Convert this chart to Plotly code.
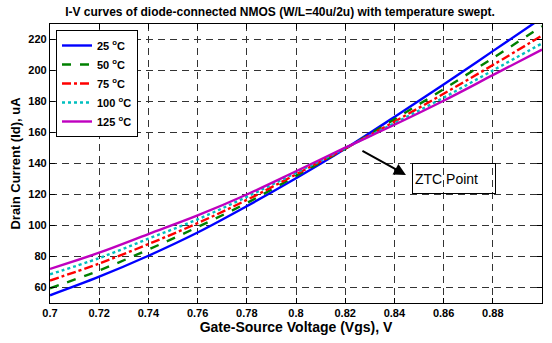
import plotly.graph_objects as go

vgs = [0.70, 0.72, 0.74, 0.76, 0.78, 0.80, 0.82, 0.84, 0.86, 0.88, 0.90]
id_25 = [55, 67, 80.5, 95.5, 112.5, 130.5, 149.5, 170, 191, 212.5, 234]
id_50 = [59.5, 71, 84.5, 99, 114.5, 132, 149.5, 168.5, 188, 208, 228.5]
id_75 = [64.5, 75.5, 88, 101.5, 116.5, 133, 149.7, 167, 185, 203.5, 222.5]
id_100 = [68.5, 79, 91.5, 104, 118.5, 134, 149.9, 166, 182.5, 200, 217.5]
id_125 = [72, 82.5, 94.5, 106.5, 120, 135, 150.2, 165, 180.5, 197, 213.5]

series = [
    ("25 <sup>o</sup>C", id_25, "#0000ff", "solid"),
    ("50 <sup>o</sup>C", id_50, "#008000", "dash"),
    ("75 <sup>o</sup>C", id_75, "#ff0000", "dashdot"),
    ("100 <sup>o</sup>C", id_100, "#00bfbf", "dot"),
    ("125 <sup>o</sup>C", id_125, "#bf00bf", "solid"),
]

x_ticks = [0.70, 0.72, 0.74, 0.76, 0.78, 0.80, 0.82, 0.84, 0.86, 0.88]
x_ticktext = ["0.7", "0.72", "0.74", "0.76", "0.78", "0.8", "0.82", "0.84", "0.86", "0.88"]
y_ticks = [60, 80, 100, 120, 140, 160, 180, 200, 220]

NARROW = "Liberation Sans Narrow, Arial Narrow, Liberation Sans, Arial, sans-serif"
SANS = "Liberation Sans, Arial, sans-serif"

fig = go.Figure()
for i, (name, vals, color, dash) in enumerate(series):
    fig.add_trace(go.Scatter(
        x=vgs, y=vals, mode="lines", name=name, legendgroup=str(i),
        line=dict(color=color, width=2.4, dash=dash, shape="spline"),
    ))

axis_common = dict(
    showline=True, linecolor="black", linewidth=1.2, mirror="ticks",
    ticks="inside", ticklen=5, tickcolor="black",
    showgrid=True, gridcolor="#333333", gridwidth=1, griddash="7px,5px",
    zeroline=False, automargin=False,
    tickfont=dict(family=NARROW, size=11, color="black", weight="bold"),
)

fig.update_xaxes(
    range=[0.7, 0.9], tickvals=x_ticks, ticktext=x_ticktext,
    title=dict(text="<b>Gate-Source Voltage (Vgs), V</b>",
               font=dict(family=NARROW, size=14, color="black"), standoff=2),
    **axis_common,
)
fig.update_yaxes(
    range=[50, 230], tickvals=y_ticks,
    title=dict(text="<b>Drain Current (Id), uA</b>",
               font=dict(family=SANS, size=13, color="black"), standoff=4),
    **axis_common,
)

fig.add_annotation(
    xref="x", yref="y", x=0.8447, y=132.6, ax=0.8264, ay=148.7,
    axref="x", ayref="y", text="", showarrow=True,
    arrowhead=2, arrowsize=1.2, arrowwidth=2, arrowcolor="black",
)
fig.add_annotation(
    xref="paper", yref="paper", x=(454 - 50) / 492, y=(303 - 178.5) / 279,
    xanchor="center", yanchor="middle", text="ZTC Point", showarrow=False,
    font=dict(family=SANS, size=14, color="black"), align="left",
    width=78, height=25, borderpad=2, bordercolor="black", borderwidth=1,
)

fig.update_layout(
    width=552, height=343,
    margin=dict(l=50, r=10, t=24, b=40, autoexpand=False),
    paper_bgcolor="white", plot_bgcolor="white",
    title=dict(text="<b>I-V curves of diode-connected NMOS (W/L=40u/2u) with temperature swept.</b>",
               x=280 / 552, xanchor="center", y=1 - 12 / 343, yanchor="middle",
               font=dict(family=NARROW, size=12, color="black")),
    legend=dict(x=6 / 492, y=(303 - 30) / 279, xanchor="left", yanchor="top",
                bgcolor="white", bordercolor="black", borderwidth=1,
                font=dict(family=NARROW, size=11, color="black", weight="bold"),
                tracegroupgap=0, itemwidth=30),
    showlegend=True,
)

fig.write_html("out.html", config={"displayModeBar": False},
               post_script="document.body.style.margin='0';document.body.style.padding='0';")
